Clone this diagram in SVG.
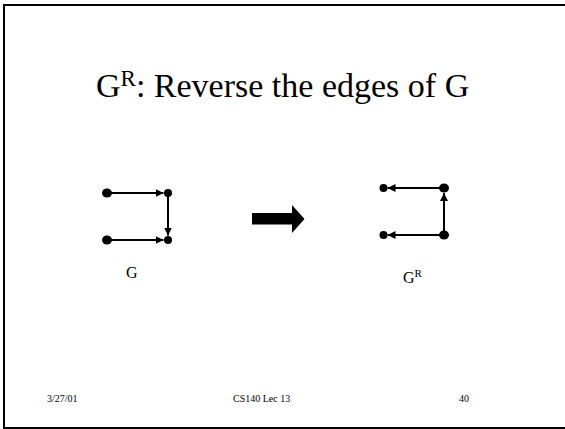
<svg xmlns="http://www.w3.org/2000/svg" width="565" height="429" viewBox="0 0 565 429">
<defs>
<style>
.t{font-family:"Liberation Serif","Times New Roman",serif;fill:#000}
.e{stroke:#000;stroke-width:2;fill:none}
.n{fill:#000}
</style>
<marker id="ah" viewBox="0 0 10 10" refX="10" refY="5" markerWidth="4" markerHeight="4" markerUnits="strokeWidth" orient="auto">
<path d="M0,0 L10,5 L0,10 Z" fill="#000"/>
</marker>
</defs>
<rect width="565" height="429" fill="#fff"/>
<g id="frame">
<path d="M4,429 V5 H565 M3,428 H565" stroke="#000" stroke-width="2" fill="none"/>
</g>
<g id="title">
<text class="t" x="96" y="97" font-size="34">G<tspan font-size="23" dy="-11">R</tspan><tspan dy="11">: Reverse the edges of G</tspan></text>
</g>
<g id="connectors">
<line class="e" x1="107" y1="193" x2="163.5" y2="193" marker-end="url(#ah)"/>
<line class="e" x1="107" y1="240" x2="163.5" y2="240" marker-end="url(#ah)"/>
<line class="e" x1="168" y1="193" x2="168" y2="235.5" marker-end="url(#ah)"/>
<line class="e" x1="444" y1="188" x2="387.5" y2="188" marker-end="url(#ah)"/>
<line class="e" x1="444" y1="235" x2="387.5" y2="235" marker-end="url(#ah)"/>
<line class="e" x1="444" y1="235" x2="444" y2="193" marker-end="url(#ah)"/>
</g>
<g id="G">
<ellipse id="g1" class="n" cx="107" cy="193" rx="5" ry="4.5"/>
<ellipse id="g2" class="n" cx="107" cy="240" rx="5" ry="4.5"/>
<circle id="g3" class="n" cx="168" cy="193" r="4"/>
<circle id="g4" class="n" cx="168" cy="240" r="4"/>
<text class="t" x="126" y="278" font-size="16">G</text>
</g>
<g id="bigarrow">
<path d="M252,213 H292 V205 L304.5,219 L292,233 V224.5 H252 Z" fill="#000"/>
</g>
<g id="GR">
<circle id="r1" class="n" cx="383.5" cy="188" r="4"/>
<circle id="r2" class="n" cx="383.5" cy="235" r="4"/>
<ellipse id="r3" class="n" cx="444" cy="188" rx="5" ry="4.5"/>
<ellipse id="r4" class="n" cx="444" cy="235" rx="5" ry="4.5"/>
<text class="t" x="403" y="283" font-size="16">G<tspan font-size="11" dy="-6">R</tspan></text>
</g>
<g id="footer">
<text class="t" x="47" y="402" font-size="10">3/27/01</text>
<text class="t" x="233" y="402" font-size="10">CS140 Lec 13</text>
<text class="t" x="459" y="402" font-size="10">40</text>
</g>
</svg>
